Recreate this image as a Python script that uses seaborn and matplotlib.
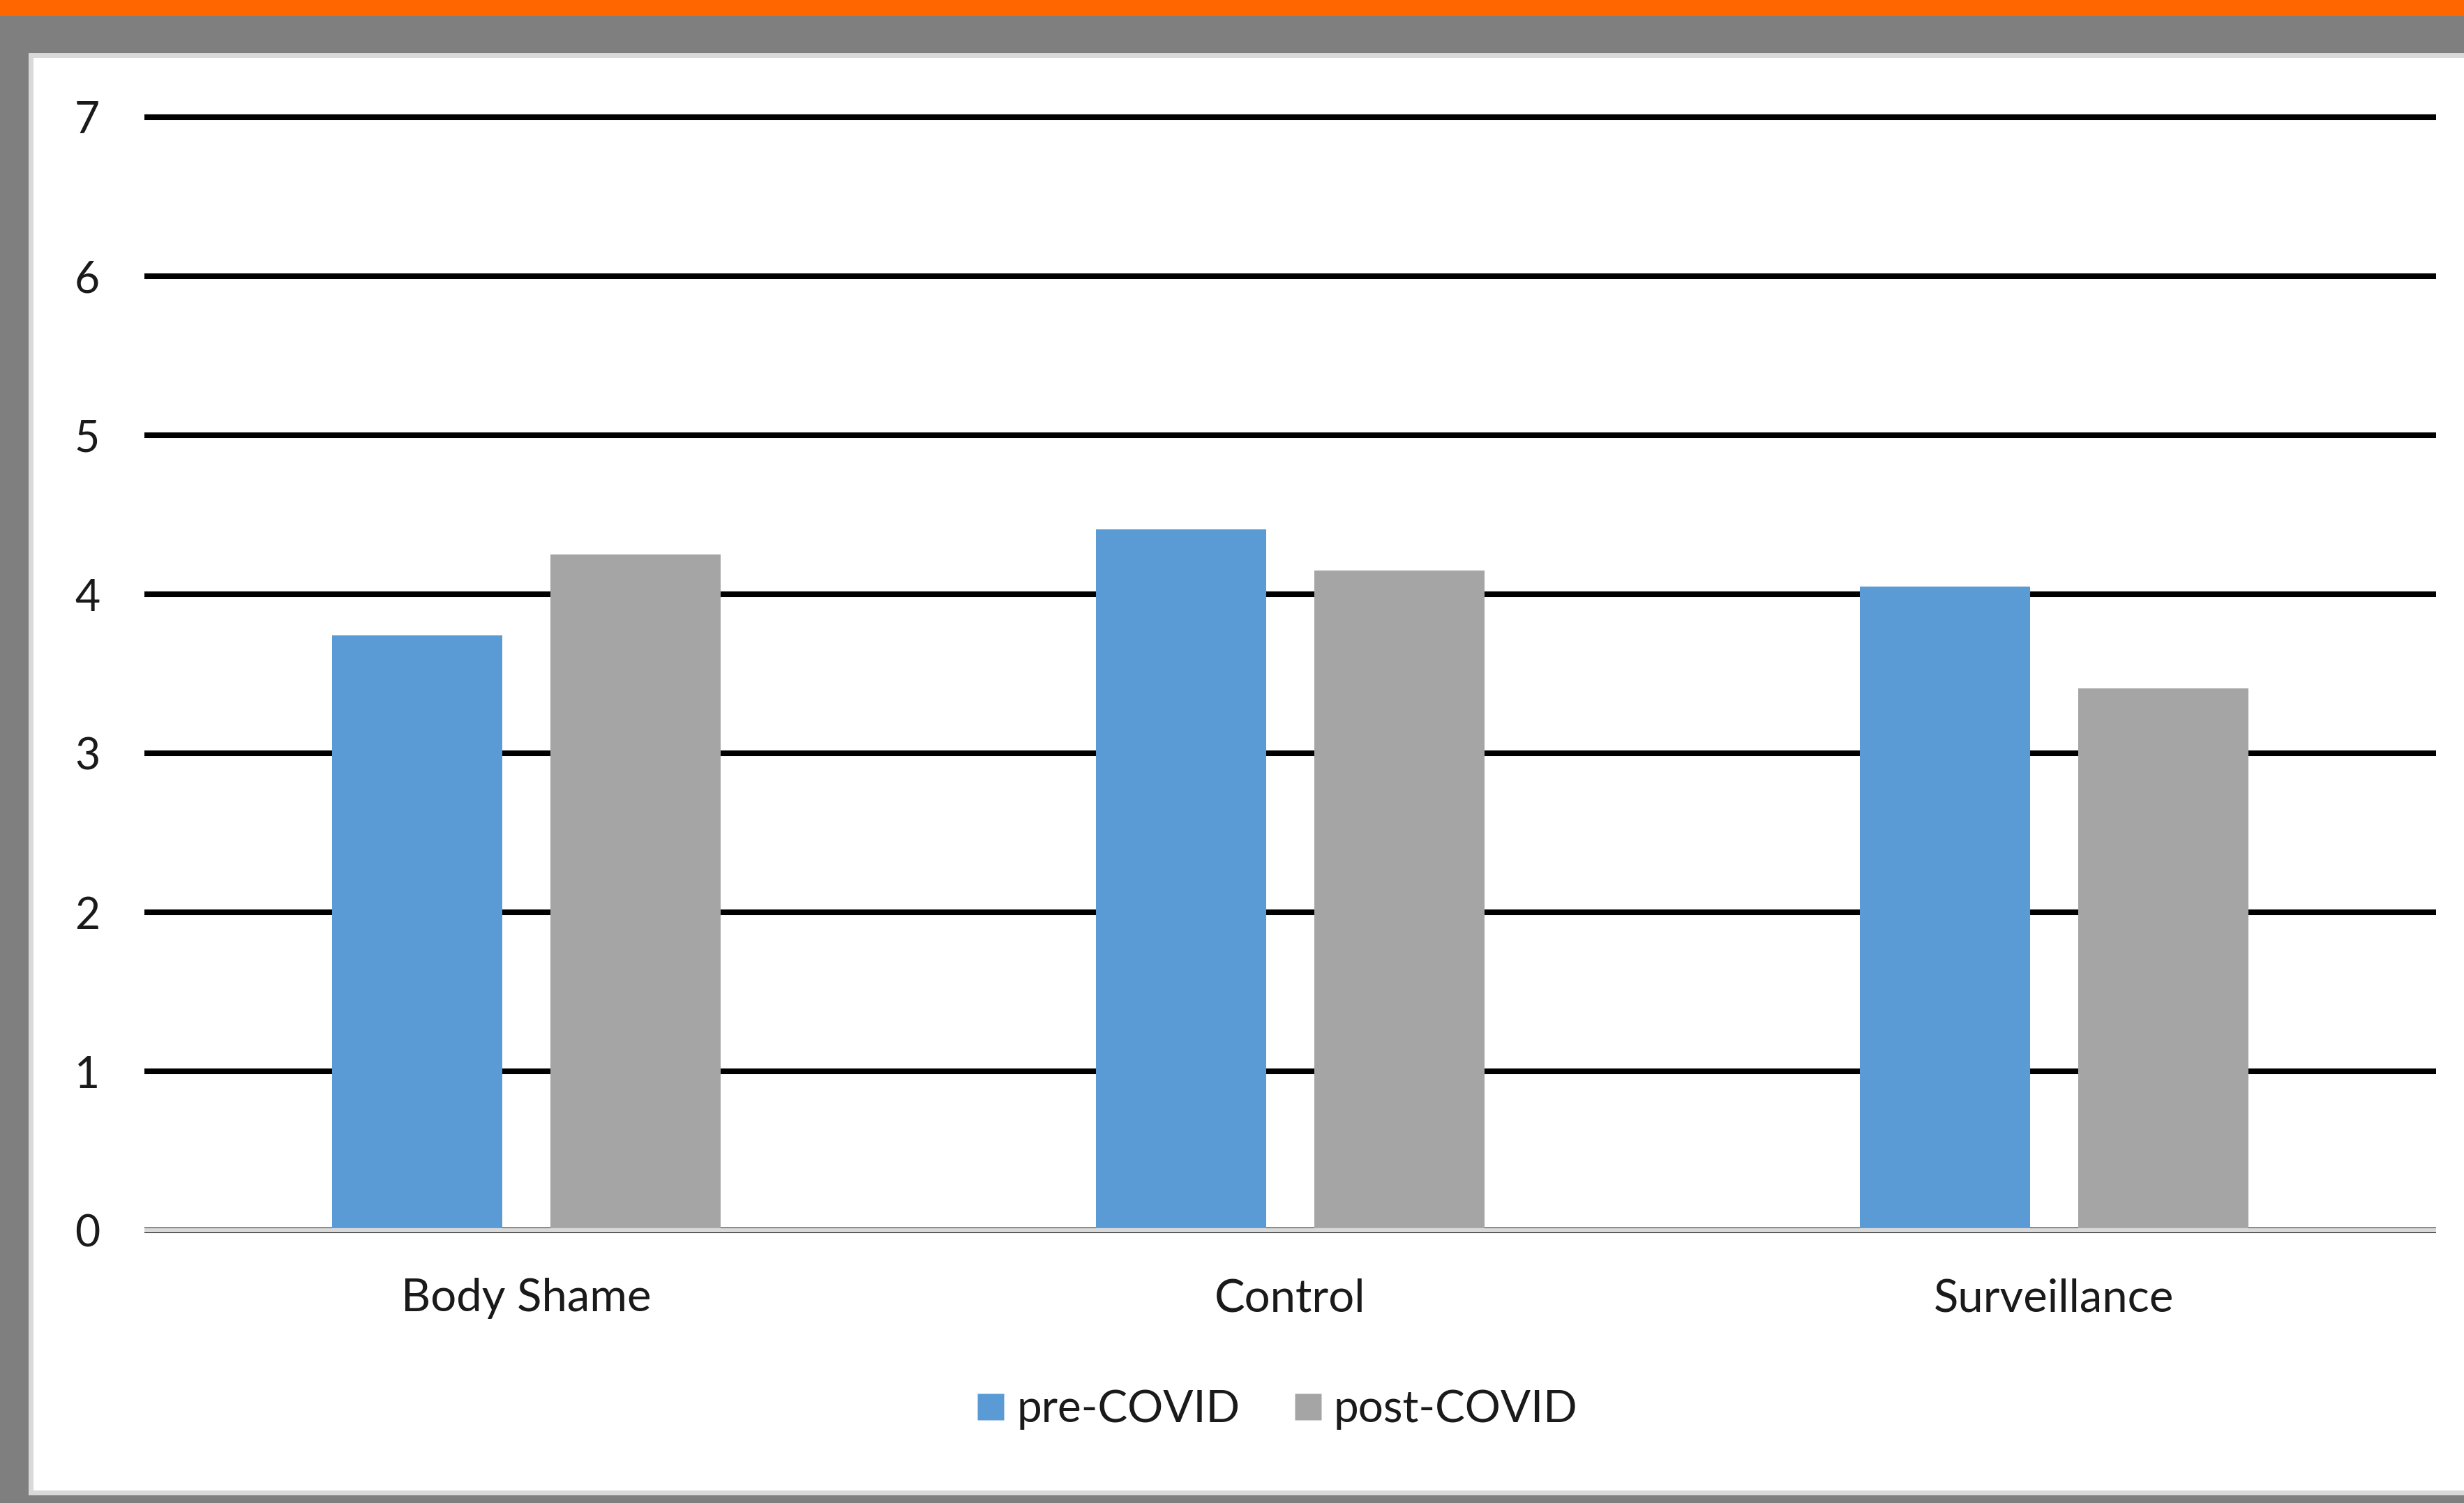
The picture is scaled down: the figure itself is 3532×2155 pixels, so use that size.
import matplotlib
matplotlib.use("Agg")
import matplotlib.pyplot as plt
from matplotlib.patches import Rectangle
from matplotlib.lines import Line2D
import seaborn as sns
import pandas as pd

categories = ["Body Shame", "Control", "Surveillance"]
pre_covid = [3.74, 4.41, 4.05]
post_covid = [4.25, 4.15, 3.41]
series_names = ["pre-COVID", "post-COVID"]
yticks = [0, 1, 2, 3, 4, 5, 6, 7]

df = pd.DataFrame({
    "category": categories * 2,
    "value": pre_covid + post_covid,
    "series": [series_names[0]] * 3 + [series_names[1]] * 3,
})

sns.set_theme(style="white")
plt.rcParams["font.family"] = ["Lato", "DejaVu Sans"]

W, H = 3532, 2155
fig = plt.figure(figsize=(W / 100, H / 100), dpi=100, facecolor="#7F7F7F")

# orange top strip
fig.add_artist(Rectangle((0, 1 - 23 / H), 1, 23 / H, transform=fig.transFigure,
                         facecolor="#FF6600", edgecolor="none", zorder=0))
# white panel
fig.add_artist(Rectangle((44 / W, (H - 2140) / H), 1.1, (2140 - 79) / H,
                         transform=fig.transFigure, facecolor="white",
                         edgecolor="#D9D9D9", linewidth=5, zorder=0))

ax = fig.add_axes([207 / W, (H - 1764) / H, (3492 - 207) / W, (1764 - 168) / H])
ax.set_facecolor("none")

sns.barplot(data=df, x="category", y="value", hue="series", order=categories,
            hue_order=series_names, palette=["#5B9BD5", "#A5A5A5"],
            width=0.572, gap=0.223, saturation=1, ax=ax, legend=False,
            edgecolor="none", linewidth=0, zorder=3)

ax.set_ylim(0, 7)
ax.set_xlim(-0.5, 2.5)
ax.set_yticks(yticks)
ax.set_yticklabels([str(t) for t in yticks])
ax.set_axisbelow(True)
ax.yaxis.grid(True, color="black", linewidth=5.8)
for gl in ax.get_ygridlines():
    gl.set_clip_on(False)
    gl.set_solid_capstyle("butt")
ax.xaxis.grid(False)
for s in ["top", "right", "left"]:
    ax.spines[s].set_visible(False)
ax.spines["bottom"].set_color("#D9D9D9")
ax.spines["bottom"].set_linewidth(4.5)
ax.spines["bottom"].set_capstyle("butt")
ax.spines["bottom"].set_zorder(4)
ax.tick_params(axis="y", length=0, pad=46, labelsize=45, labelcolor="#1A1A1A")
ax.tick_params(axis="x", length=0, pad=49, labelsize=47, labelcolor="#1A1A1A")
ax.set_xlabel("")
ax.set_ylabel("")

handles = [Line2D([0], [0], marker="s", linestyle="none", markersize=28,
                  markerfacecolor=c, markeredgecolor="none")
           for c in ["#5B9BD5", "#A5A5A5"]]
fig.legend(handles, series_names, loc="center", bbox_to_anchor=(1832 / W, 134 / H),
           ncol=2, frameon=False, fontsize=46, handlelength=0.55,
           handletextpad=0.3, columnspacing=1.25, labelcolor="#1A1A1A")

fig.savefig("out.png", dpi=100, facecolor=fig.get_facecolor())
